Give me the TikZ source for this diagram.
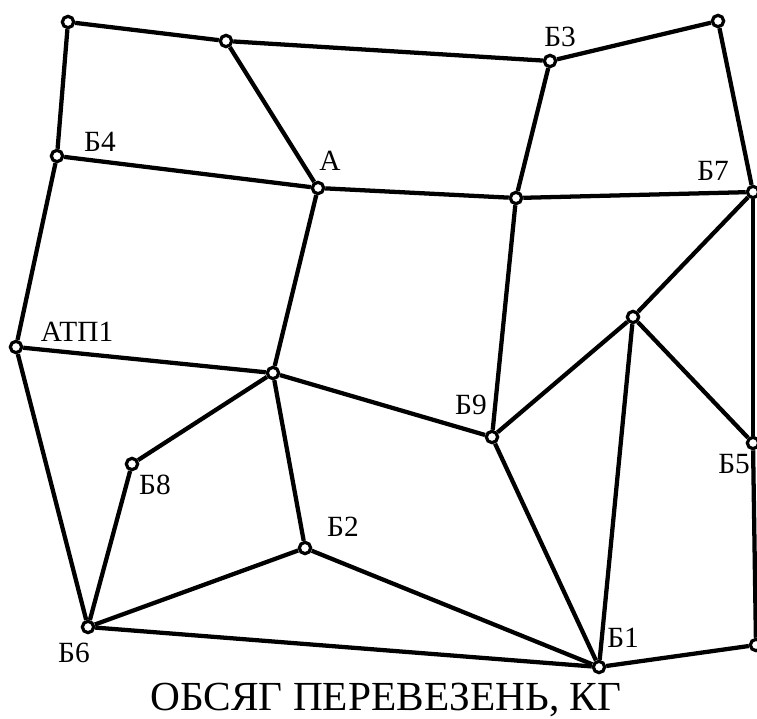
\documentclass[tikz,border=0pt]{standalone}
\usepackage{fontspec}
\setmainfont{Liberation Serif}
\begin{document}
\begin{tikzpicture}[x=0.75pt, y=-0.75pt, line width=3.2pt,
  every node/.style={font=\fontsize{22}{24}\selectfont, inner sep=1pt},
  pnt/.style={circle, draw=black, fill=white, line width=2.4pt, inner sep=0pt, minimum size=8.5pt}]
\useasboundingbox (0,0) rectangle (757,718);
\node (tl) at (68, 22) [pnt] {};
\node (t2) at (226, 41) [pnt] {};
\node (b3) at (550, 61) [pnt] {};
\node (tr) at (718, 21) [pnt] {};
\node (b4) at (57, 156) [pnt] {};
\node (a) at (318, 188) [pnt] {};
\node (m7) at (516, 198) [pnt] {};
\node (b7) at (753, 192) [pnt] {};
\node (atp) at (16, 347) [pnt] {};
\node (c) at (273, 373) [pnt] {};
\node (p) at (633, 317) [pnt] {};
\node (b9) at (492, 437) [pnt] {};
\node (b5) at (753, 443) [pnt] {};
\node (b8) at (132, 464) [pnt] {};
\node (b2) at (305, 548) [pnt] {};
\node (b6) at (88, 627) [pnt] {};
\node (b1) at (599, 667) [pnt] {};
\node (br) at (756, 645) [pnt] {};

\node (lb3) at (560, 37) {Б3};
\node (lb4) at (100, 142) {Б4};
\node (la) at (330, 161) {А};
\node (lb7) at (713, 171) {Б7};
\node (latp) at (77, 332) {АТП1};
\node (lb9) at (471, 405) {Б9};
\node (lb5) at (734, 464) {Б5};
\node (lb8) at (155, 485) {Б8};
\node (lb2) at (343, 527) {Б2};
\node (lb6) at (74, 653) {Б6};
\node (lb1) at (623, 638) {Б1};
\node (cap) at (386, 700) [font=\fontsize{31}{33}\selectfont] {ОБСЯГ ПЕРЕВЕЗЕНЬ, КГ};

\draw (tl) to (t2);
\draw (t2) to (b3);
\draw (b3) to (tr);
\draw (tl) to (b4);
\draw (t2) to (a);
\draw (b4) to (a);
\draw (a) to (m7);
\draw (m7) to (b7);
\draw (b3) to (m7);
\draw (tr) to (b7);
\draw (b4) to (atp);
\draw (a) to (c);
\draw (atp) to (c);
\draw (c) to (b9);
\draw (m7) to (b9);
\draw (b9) to (p);
\draw (p) to (b7);
\draw (p) to (b5);
\draw (p) to (b1);
\draw (b7) to (b5);
\draw (b5) to (br);
\draw (c) to (b8);
\draw (c) to (b2);
\draw (atp) to (b6);
\draw (b8) to (b6);
\draw (b6) to (b2);
\draw (b6) to (b1);
\draw (b2) to (b1);
\draw (b9) to (b1);
\draw (b1) to (br);
\end{tikzpicture}
\end{document}
